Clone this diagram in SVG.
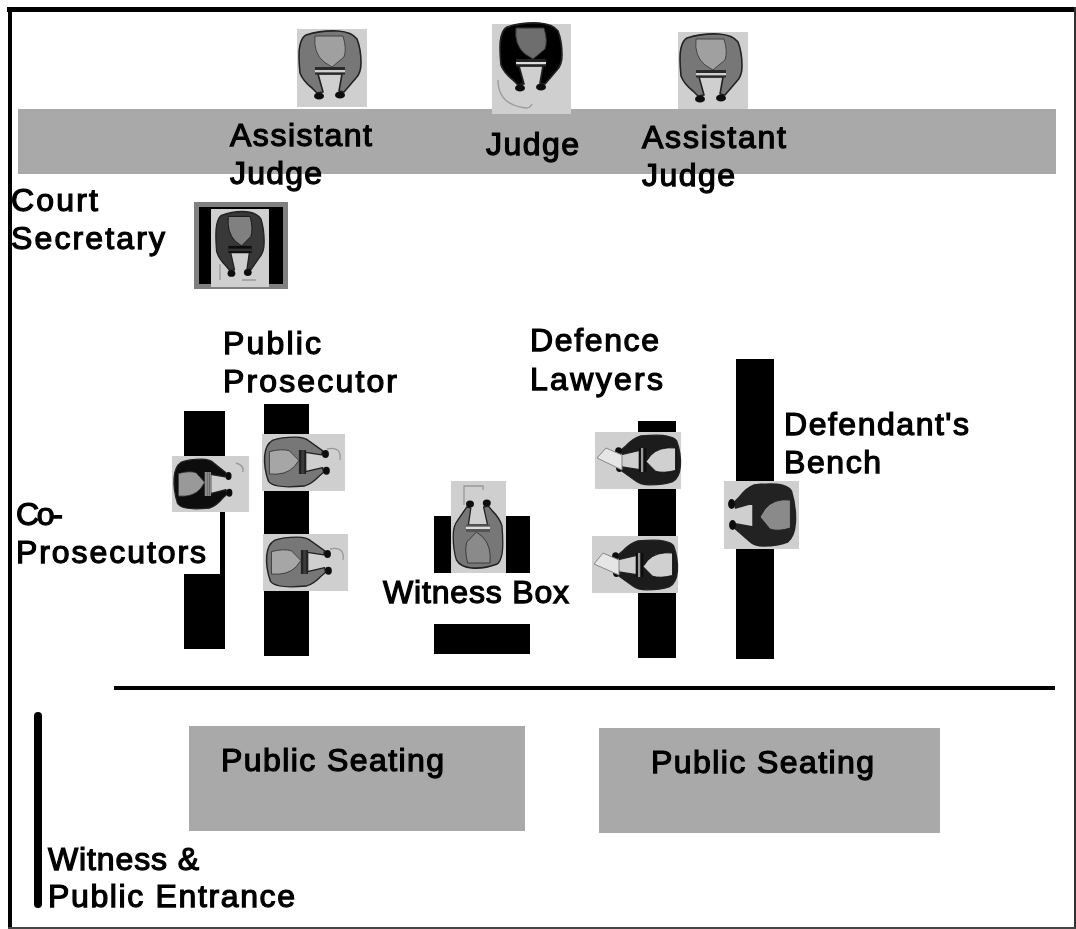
<svg xmlns="http://www.w3.org/2000/svg" width="1076" height="929" viewBox="0 0 1076 929">
<style>
text{font-family:"Liberation Sans",Arial,sans-serif;font-size:32px;fill:#000;stroke:#000;stroke-width:1.25px}
.blk{fill:#000}.gry{fill:#a9a9a9}.tile{fill:#cfcfcf}
.robe{fill:var(--robe);stroke:#222;stroke-width:1.6px;stroke-linejoin:round}
.head{fill:var(--head);stroke:var(--edge);stroke-width:1px}
.bar{fill:var(--bar)}
.bar2{fill:var(--bar2)}
.foot{fill:#111}
.mark{fill:none;stroke:#999;stroke-width:1.3px}
.A{--robe:#777;--head:#a0a0a0;--bar:#d0d0d0;--bar2:#2a2a2a;--edge:#444}
.J{--robe:#050505;--head:#6e6e6e;--bar:#ddd;--bar2:#222;--edge:#333}
.S{--robe:#383838;--head:#808080;--bar:#333;--bar2:#111;--edge:#111}
.P{--robe:#777;--head:#a6a6a6;--bar:#3a3a3a;--bar2:#222;--edge:#333}
.C{--robe:#0a0a0a;--head:#999;--bar:#8a8a8a;--bar2:#8a8a8a;--edge:#333}
.D{--robe:#1a1a1a;--head:#d0d0d0;--bar:#999;--bar2:#111;--edge:#111}
.W{--robe:#777;--head:#8a8a8a;--bar:#ddd;--bar2:#555;--edge:#333}
.B{--robe:#222;--head:#8a8a8a;--bar:#222;--bar2:#222;--edge:#222}
</style>
<defs>
<filter id="soft" x="-5%" y="-5%" width="110%" height="110%"><feGaussianBlur stdDeviation=".5"/></filter>
<g id="fig">
<path class="robe" d="M-24,-30Q-8,-35 8,-34Q22,-33 27,-26Q31,-16 31,-2Q31,8 26,13Q20,20 14,27L9,26L12,9L-12,9L-7,27L-13,28L-18,23Q-27,16-30,8Q-32,-12-30,-20Q-28,-28-24,-30Z"/>
<path class="head" d="M-15,-29L13,-29Q17,-16 14,-8L8,-3L2,2L-6,-3Q-17,-12-15,-29Z"/>
<rect class="bar2" x="-15" y="2" width="30" height="3"/>
<rect class="bar" x="-15" y="5" width="30" height="2.5"/>
<rect class="bar2" x="-15" y="7.5" width="30" height="2"/>
<ellipse class="foot" cx="-11" cy="31" rx="5" ry="3.6"/>
<ellipse class="foot" cx="10" cy="30" rx="5" ry="3.6"/>
</g>
</defs>
<rect width="1076" height="929" fill="#fff"/>
<g filter="url(#soft)">
<g id="frame"><rect x="7" y="7" width="1069" height="5" class="blk"/><rect x="8" y="7" width="4" height="922" class="blk"/><rect x="1074" y="7" width="2" height="922" fill="#333"/><rect x="8" y="927" width="1068" height="2" fill="#444"/></g>
<g id="judges-bench"><rect class="gry" x="18" y="109" width="1038" height="65"/></g>
<g id="assistant-judge-left"><rect class="tile" x="297" y="29" width="70" height="78"/><use href="#fig" class="A" transform="translate(330,65)"/></g>
<g id="judge"><rect class="tile" x="492" y="24" width="79" height="90"/><use href="#fig" class="J" transform="translate(531,57)"/><path class="mark" d="M498,80Q498,105 526,108Q530,108 532,104"/></g>
<g id="assistant-judge-right"><rect class="tile" x="678" y="32" width="70" height="77"/><use href="#fig" class="A" transform="translate(711,68)"/></g>
<text x="230" y="146" textLength="142">Assistant</text><text x="230" y="184" textLength="92">Judge</text>
<text x="486" y="155" textLength="93">Judge</text>
<text x="642" y="148" textLength="144">Assistant</text><text x="642" y="186" textLength="93">Judge</text>
<g id="court-secretary">
<rect x="194" y="202" width="94" height="87" fill="#808080"/><rect class="blk" x="199" y="207" width="84" height="77"/><rect class="tile" x="211" y="209" width="58" height="78"/>
<use href="#fig" class="S" transform="translate(240,244) scale(.78,.95)"/>
<path class="mark" d="M220,264V280M242,280H256"/>
<text x="11" y="211" textLength="87">Court</text><text x="11" y="249" textLength="154">Secretary</text></g>
<g id="co-prosecutors">
<path class="blk" d="M184,411H225V649H184V574H220V512H184Z"/>
<rect class="tile" x="172" y="456" width="77" height="56"/><use href="#fig" class="C" transform="translate(203,484) rotate(-90) scale(.8,.85)"/>
<path class="mark" d="M236,463Q244,465 243,472"/>
<text x="16" y="525" textLength="47">Co-</text><text x="16" y="563" textLength="190">Prosecutors</text></g>
<g id="public-prosecutor">
<rect class="blk" x="264" y="404" width="45" height="252"/>
<rect class="tile" x="262" y="434" width="83" height="57"/><use href="#fig" class="P" transform="translate(297,462) rotate(-90) scale(.8,.95)"/>
<path class="mark" d="M327,449Q342,446 340,460"/>
<rect class="tile" x="263" y="534" width="85" height="57"/><use href="#fig" class="P" transform="translate(299,562) rotate(-90) scale(.8,.95)"/>
<path class="mark" d="M330,549Q345,546 343,560"/>
<text x="223" y="354" textLength="98">Public</text><text x="223" y="392" textLength="174">Prosecutor</text></g>
<g id="witness-box">
<rect class="blk" x="434" y="516" width="96" height="57"/><rect class="tile" x="451" y="481" width="55" height="92"/>
<use href="#fig" class="W" transform="translate(478,534) rotate(180) scale(.8,1)"/>
<path class="mark" d="M464,505V486H483V490"/>
<rect class="blk" x="434" y="624" width="96" height="30"/>
<text x="383" y="603" textLength="186">Witness Box</text></g>
<g id="defence-lawyers">
<rect class="blk" x="638" y="421" width="38" height="237"/>
<rect class="tile" x="595" y="432" width="86" height="57"/><use href="#fig" class="D" transform="translate(648,460) rotate(90) scale(.8,.95)"/>
<path d="M597,458L606,448L622,455V470Z" fill="#e6e6e6" stroke="#888" stroke-width="1"/>
<rect class="tile" x="592" y="536" width="86" height="57"/><use href="#fig" class="D" transform="translate(645,565) rotate(90) scale(.8,.95)"/>
<path d="M594,564L603,553L619,560V575Z" fill="#e6e6e6" stroke="#888" stroke-width="1"/>
<text x="530" y="351" textLength="129">Defence</text><text x="530" y="390" textLength="133">Lawyers</text></g>
<g id="defendants-bench">
<rect class="blk" x="736" y="359" width="38" height="300"/>
<rect class="tile" x="724" y="481" width="75" height="68"/><use href="#fig" class="B" transform="translate(762,515) rotate(90) scale(1,.98)"/>
<text x="784" y="435" textLength="185">Defendant's</text><text x="784" y="473" textLength="97">Bench</text></g>
<g id="barrier"><path d="M114,688H1055" fill="none" stroke="#000" stroke-width="4"/></g>
<g id="public-seating-left"><rect class="gry" x="189" y="726" width="336" height="105"/><text x="221" y="771" textLength="223">Public Seating</text></g>
<g id="public-seating-right"><rect class="gry" x="599" y="728" width="341" height="105"/><text x="651" y="773" textLength="223">Public Seating</text></g>
<g id="entrance"><path d="M38,716V904" fill="none" stroke="#000" stroke-width="8" stroke-linecap="round"/><text x="48" y="870" textLength="151">Witness &amp;</text><text x="48" y="907" textLength="247">Public Entrance</text></g>
</g>
</svg>
